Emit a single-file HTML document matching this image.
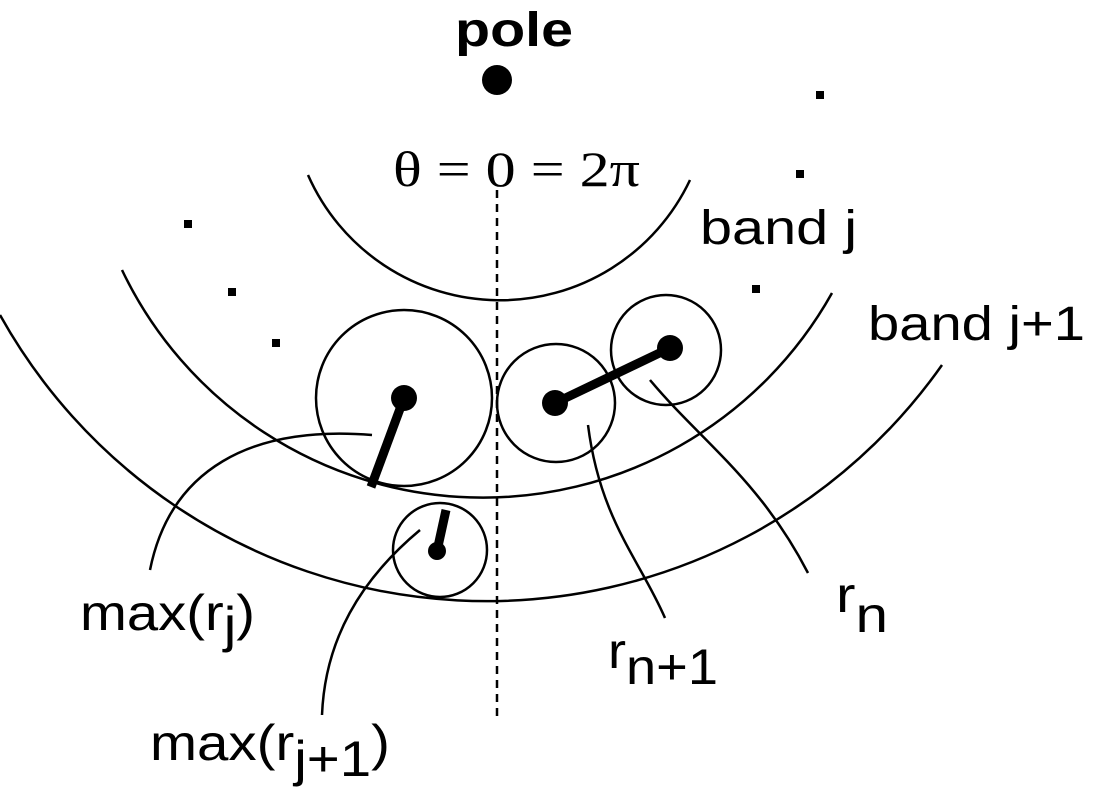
<!DOCTYPE html>
<html><head><style>
body{margin:0;background:#fff}
svg{display:block}
text{font-family:"Liberation Sans",sans-serif;fill:#000}
</style></head><body>
<svg width="1104" height="800" viewBox="0 0 1104 800" xmlns="http://www.w3.org/2000/svg">
<g fill="none" stroke="#000" stroke-width="2.5">
<path d="M308,175 A210,210 0 0 0 690,180"/>
<path d="M122,270 A400,400 0 0 0 832,293"/>
<path d="M0,315 A557,557 0 0 0 942,365"/>
<line x1="497" y1="190" x2="497" y2="718" stroke-dasharray="8,6"/>
<circle cx="404" cy="398" r="88"/>
<circle cx="556" cy="403" r="59"/>
<circle cx="666" cy="350" r="55"/>
<circle cx="440" cy="550" r="47"/>
<path d="M372,435 C250,425 170,470 150,570"/>
<path d="M420,530 C360,580 325,640 322,715"/>
<path d="M588,425 C600,520 640,560 665,618"/>
<path d="M650,380 C700,440 760,480 808,573"/>
</g>
<g stroke="#000" stroke-width="9" stroke-linecap="butt">
<line x1="404" y1="398" x2="371" y2="487"/>
<line x1="555" y1="403" x2="670" y2="348"/>
<line x1="437" y1="551" x2="446" y2="510"/>
</g>
<g fill="#000">
<circle cx="404" cy="398" r="13"/>
<circle cx="555" cy="403" r="13"/>
<circle cx="670" cy="348" r="13"/>
<circle cx="437" cy="551" r="9"/>
<circle cx="497" cy="80" r="15"/>
<rect x="184" y="220" width="8" height="8"/>
<rect x="228" y="288" width="8" height="8"/>
<rect x="272" y="339" width="8" height="8"/>
<rect x="816" y="91" width="8" height="8"/>
<rect x="796" y="170" width="8" height="8"/>
<rect x="752" y="285" width="8" height="8"/>
</g>
<text x="455" y="46" font-size="48" font-weight="bold" textLength="118" lengthAdjust="spacingAndGlyphs">pole</text>
<text x="393" y="186" font-size="50" style="font-family:'Liberation Serif',serif" textLength="247" lengthAdjust="spacingAndGlyphs">θ = 0 = 2π</text>
<text x="700" y="244" font-size="48" textLength="157" lengthAdjust="spacingAndGlyphs">band j</text>
<text x="868" y="340" font-size="48" textLength="217" lengthAdjust="spacingAndGlyphs">band j+1</text>
<text x="80" y="630" font-size="50" textLength="175" lengthAdjust="spacingAndGlyphs">max(r<tspan dy="12">j</tspan><tspan dy="-12">)</tspan></text>
<text x="150" y="760" font-size="50" textLength="240" lengthAdjust="spacingAndGlyphs">max(r<tspan dy="16">j+1</tspan><tspan dy="-16">)</tspan></text>
<text x="608" y="668" font-size="50" textLength="110" lengthAdjust="spacingAndGlyphs">r<tspan dy="16">n+1</tspan></text>
<text x="836" y="612" font-size="50" textLength="52" lengthAdjust="spacingAndGlyphs">r<tspan dy="20">n</tspan></text>
</svg>
</body></html>
